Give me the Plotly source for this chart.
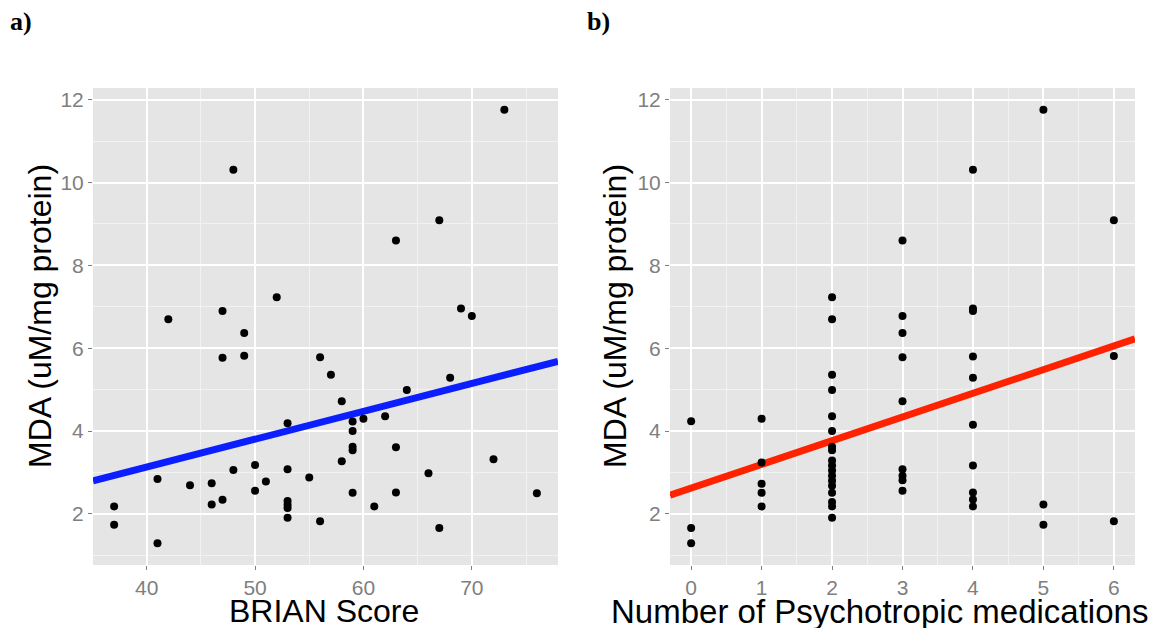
import numpy as np
import plotly.graph_objects as go

# Panel a: BRIAN score vs MDA
brian = [37, 37, 41, 41, 42, 44, 46, 46, 47, 47, 47, 48, 48, 49, 49, 50, 50, 51, 52,
         53, 53, 53, 53, 53, 53, 55, 56, 56, 57, 58, 58, 59, 59, 59, 59, 59, 60, 61,
         62, 63, 63, 63, 64, 66, 67, 67, 68, 69, 70, 72, 73, 76]
mda_a = [2.18, 1.74, 1.29, 2.84, 6.70, 2.69, 2.74, 2.23, 6.90, 5.77, 2.34, 10.31, 3.06,
         6.37, 5.82, 3.18, 2.56, 2.78, 7.23, 4.19, 3.08, 2.31, 2.22, 2.14, 1.91, 2.88,
         5.78, 1.82, 5.36, 4.72, 3.27, 4.23, 4.00, 3.62, 3.54, 2.51, 4.30, 2.18, 4.36,
         8.60, 3.61, 2.52, 4.99, 2.98, 9.09, 1.66, 5.29, 6.96, 6.78, 3.32, 11.76, 2.50]

# Panel b: number of psychotropic medications vs MDA
meds = [0, 0, 0,
        1, 1, 1, 1, 1,
        2, 2, 2, 2, 2, 2, 2, 2, 2, 2, 2, 2, 2, 2, 2, 2, 2, 2,
        3, 3, 3, 3, 3, 3, 3, 3, 3,
        4, 4, 4, 4, 4, 4, 4, 4, 4, 4,
        5, 5, 5,
        6, 6, 6]
mda_b = [4.24, 1.66, 1.29,
         4.30, 3.24, 2.73, 2.51, 2.18,
         7.23, 6.70, 5.36, 4.99, 4.36, 4.00, 3.62, 3.54, 3.29, 3.17, 3.05, 2.92, 2.80,
         2.68, 2.51, 2.29, 2.18, 1.91,
         8.60, 6.78, 6.37, 5.78, 4.72, 3.08, 2.92, 2.81, 2.56,
         10.31, 6.96, 6.90, 5.80, 5.29, 4.15, 3.17, 2.52, 2.35, 2.18,
         11.76, 2.23, 1.74,
         9.09, 5.81, 1.82]

x_ticks_a = [40, 50, 60, 70]
x_ticks_b = [0, 1, 2, 3, 4, 5, 6]
y_ticks = [2, 4, 6, 8, 10, 12]


def expand(vals, frac=0.05):
    lo, hi = min(vals), max(vals)
    pad = (hi - lo) * frac
    return [lo - pad, hi + pad]


rx_a = expand(brian)
rx_b = expand(meds)
ry = expand(mda_a + mda_b)

ca = np.polyfit(brian, mda_a, 1)
cb = np.polyfit(meds, mda_b, 1)
fx_a = np.array(rx_a)
fx_b = np.array(rx_b)

fig = go.Figure()
fig.add_trace(go.Scatter(x=fx_a, y=np.polyval(ca, fx_a), mode="lines",
                         line=dict(color="#0A1EFF", width=7), xaxis="x", yaxis="y",
                         showlegend=False, hoverinfo="skip"))
fig.add_trace(go.Scatter(x=brian, y=mda_a, mode="markers",
                         marker=dict(color="black", size=8), xaxis="x", yaxis="y",
                         showlegend=False))
fig.add_trace(go.Scatter(x=fx_b, y=np.polyval(cb, fx_b), mode="lines",
                         line=dict(color="#FF2200", width=7), xaxis="x2", yaxis="y2",
                         showlegend=False, hoverinfo="skip"))
fig.add_trace(go.Scatter(x=meds, y=mda_b, mode="markers",
                         marker=dict(color="black", size=8), xaxis="x2", yaxis="y2",
                         showlegend=False))

W, H = 1173, 628
OFF = 8  # page body margin


def px_x(p):
    return (p - OFF) / W


def px_y(p):
    return 1 - (p - OFF) / H


dom_y = [px_y(565), px_y(88)]
tickfont = dict(family="Liberation Sans, Arial, sans-serif", size=21, color="#7F7F7F")

axis_common = dict(showline=False, zeroline=False, showgrid=True, gridcolor="white",
                   gridwidth=1.5, ticks="outside", ticklen=4, tickwidth=1,
                   tickcolor="#7F7F7F", tickfont=tickfont, fixedrange=True)

fig.update_layout(
    width=W, height=H,
    margin=dict(l=0, r=0, t=0, b=0),
    paper_bgcolor="white",
    plot_bgcolor="#E5E5E5",
    xaxis=dict(domain=[px_x(93), px_x(558)], range=rx_a, tickvals=x_ticks_a, anchor="y",
               minor=dict(dtick=5, tick0=35, showgrid=True, gridcolor="#F2F2F2",
                          gridwidth=0.8, ticks=""),
               **axis_common),
    yaxis=dict(domain=dom_y, range=ry, tickvals=y_ticks, anchor="x",
               minor=dict(dtick=2, tick0=1, showgrid=True, gridcolor="#F2F2F2",
                          gridwidth=0.8, ticks=""),
               **axis_common),
    xaxis2=dict(domain=[px_x(670), px_x(1135)], range=rx_b, tickvals=x_ticks_b, anchor="y2",
                minor=dict(dtick=1, tick0=0.5, showgrid=True, gridcolor="#F2F2F2",
                           gridwidth=0.8, ticks=""),
                **axis_common),
    yaxis2=dict(domain=dom_y, range=ry, tickvals=y_ticks, anchor="x2",
                minor=dict(dtick=2, tick0=1, showgrid=True, gridcolor="#F2F2F2",
                           gridwidth=0.8, ticks=""),
                **axis_common),
)

title_font = dict(family="Liberation Sans, Arial, sans-serif", size=32, color="black")
long_font = dict(family="Liberation Sans, Arial, sans-serif", size=33, color="black")
label_font = dict(family="Liberation Serif, Times New Roman, serif", size=26, color="black")

ann = [
    dict(text="<b>a)</b>", x=px_x(8), y=px_y(22), xanchor="left", yanchor="middle",
         font=label_font),
    dict(text="<b>b)</b>", x=px_x(585), y=px_y(22), xanchor="left", yanchor="middle",
         font=label_font),
    dict(text="BRIAN Score", x=px_x(324), y=px_y(611), xanchor="center",
         yanchor="middle", font=title_font),
    dict(text="Number of Psychotropic medications", x=px_x(880), y=px_y(611),
         xanchor="center", yanchor="middle", font=long_font),
    dict(text="MDA (uM/mg protein)", x=px_x(40), y=px_y(316), xanchor="center",
         yanchor="middle", textangle=-90, font=title_font),
    dict(text="MDA (uM/mg protein)", x=px_x(615), y=px_y(316), xanchor="center",
         yanchor="middle", textangle=-90, font=title_font),
]
for a in ann:
    a.update(xref="paper", yref="paper", showarrow=False)
fig.update_layout(annotations=ann)

fig.write_html("out.html")
